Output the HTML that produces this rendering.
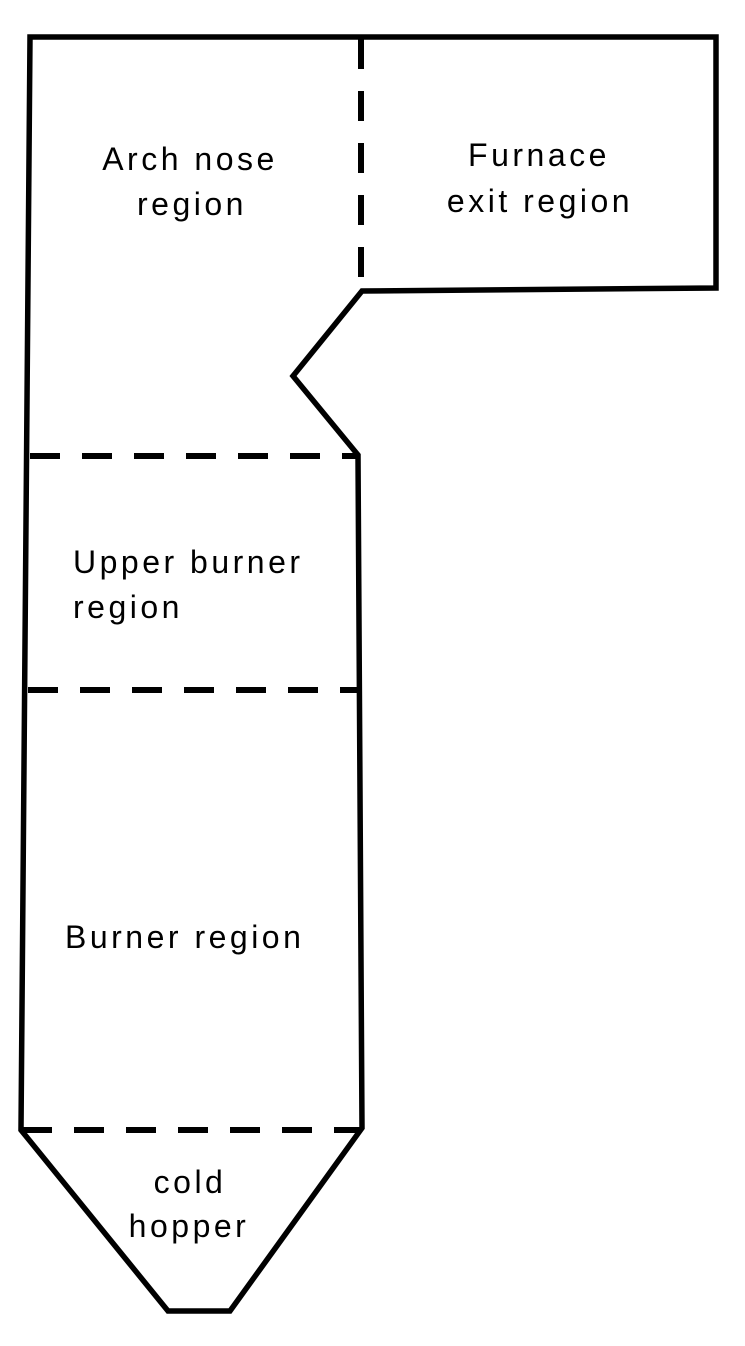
<!DOCTYPE html>
<html><head><style>
html,body{margin:0;padding:0;background:#fff;}
svg{display:block;}
text{font-family:"Liberation Sans",sans-serif;font-size:32px;letter-spacing:3.5px;fill:#000;}
</style></head><body>
<svg width="745" height="1346" viewBox="0 0 745 1346">
<path d="M30,37 L716,37 L716,288 L362,291 L293,376 L358,455 L362,1128 L230,1311 L168,1311 L21,1130 Z" fill="none" stroke="#000" stroke-width="5.5" stroke-linejoin="miter"/>
<g stroke="#000" stroke-width="6" stroke-dasharray="30,22">
<line x1="361" y1="39" x2="361" y2="291"/>
<line x1="30" y1="456" x2="358" y2="456"/>
<line x1="28" y1="690" x2="358" y2="690"/>
<line x1="22" y1="1130" x2="360" y2="1130"/>
</g>
<text x="190" y="170" text-anchor="middle">Arch nose</text>
<text x="192" y="215" text-anchor="middle">region</text>
<text x="539" y="166" text-anchor="middle">Furnace</text>
<text x="540" y="212" text-anchor="middle">exit region</text>
<text x="73" y="573">Upper burner</text>
<text x="73" y="618">region</text>
<text x="65" y="948">Burner region</text>
<text x="190" y="1193" text-anchor="middle">cold</text>
<text x="189" y="1237" text-anchor="middle">hopper</text>
</svg>
</body></html>
